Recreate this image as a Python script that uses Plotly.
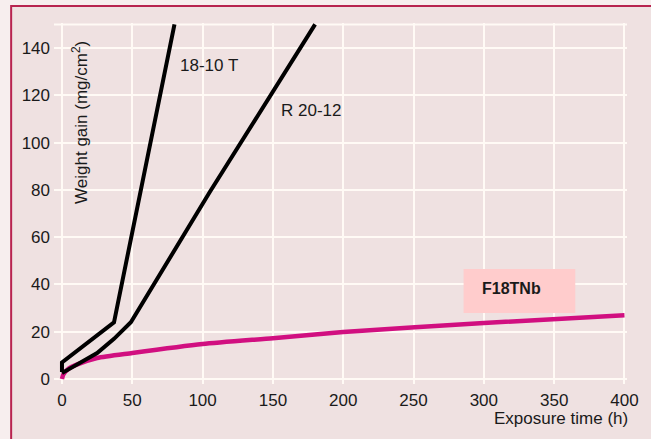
import plotly.graph_objects as go

# Weight gain vs exposure time for three steels
t_1810 = [0, 0, 37, 80]
w_1810 = [3, 7, 24, 150]

t_r2012 = [0, 12, 25, 37, 49, 105, 180]
w_r2012 = [2.5, 6.5, 11, 17, 24, 79, 150]

t_f18 = [0, 1, 5, 10, 25, 50, 100, 150, 200, 300, 400]
w_f18 = [0, 2, 4.5, 6, 8.9, 11, 14.8, 17.3, 19.9, 23.7, 27]

x_ticks = [0, 50, 100, 150, 200, 250, 300, 350, 400]
y_ticks = [0, 20, 40, 60, 80, 100, 120, 140]
y_top = 150

BG = "#EFE1E1"
GRID = "#FFFAF5"
FONT = "Liberation Sans, Arial, sans-serif"

fig = go.Figure()
fig.add_trace(go.Scatter(x=t_f18, y=w_f18, mode="lines",
                         line=dict(color="#D10F80", width=4.5, shape="spline", smoothing=0.6),
                         showlegend=False, hoverinfo="skip"))
fig.add_trace(go.Scatter(x=t_r2012, y=w_r2012, mode="lines",
                         line=dict(color="#000000", width=4),
                         showlegend=False, hoverinfo="skip"))
fig.add_trace(go.Scatter(x=t_1810, y=w_1810, mode="lines",
                         line=dict(color="#000000", width=4),
                         showlegend=False, hoverinfo="skip"))

L, R, T, B = 54, 22, 23, 55
W, H = 651, 439
pw, ph = W - L - R, H - T - B

def px(xp):
    return (xp - L) / pw

def py(yp):
    return (H - B - yp) / ph

shapes = [
    # framed panel: only top and left edges fall inside the page
    dict(type="rect", xref="paper", yref="paper",
         x0=px(11), x1=1.2, y0=-0.3, y1=py(6),
         fillcolor=BG, line=dict(color="#B8234F", width=2), layer="below"),
    # top grid line of the plot area
    dict(type="line", xref="paper", yref="y", x0=0, x1=1, y0=y_top, y1=y_top,
         line=dict(color=GRID, width=2), layer="below"),
    # label box for F18TNb
    dict(type="rect", xref="x", yref="y", x0=285.6, x1=365, y0=27.9, y1=46.5,
         fillcolor="#FFCCCC", line=dict(width=0), layer="above"),
]

annotations = [
    dict(text="Weight gain (mg/cm<sup>2</sup>)", xref="paper", yref="paper",
         x=px(80), y=py(122), textangle=-90, showarrow=False,
         font=dict(size=17, color="#1a1a1a", family=FONT),
         xanchor="center", yanchor="middle"),
    dict(text="Exposure time (h)", xref="paper", yref="paper",
         x=px(632), y=py(418), showarrow=False,
         font=dict(size=17, color="#1a1a1a", family=FONT),
         xanchor="right", yanchor="middle"),
    dict(text="18-10 T", x=82.2, y=132.8, xref="x", yref="y", showarrow=False,
         font=dict(size=17, color="#1a1a1a", family=FONT), xanchor="left", yanchor="middle"),
    dict(text="R 20-12", x=154.5, y=113.8, xref="x", yref="y", showarrow=False,
         font=dict(size=17, color="#1a1a1a", family=FONT), xanchor="left", yanchor="middle"),
    dict(text="<b>F18TNb</b>", x=319.6, y=38.5, xref="x", yref="y", showarrow=False,
         font=dict(size=16, color="#1a1a1a", family=FONT), xanchor="center", yanchor="middle"),
]

fig.update_layout(
    width=W, height=H,
    margin=dict(l=L, r=R, t=T, b=B),
    paper_bgcolor="#F7EEEE",
    plot_bgcolor="rgba(0,0,0,0)",
    font=dict(family=FONT, size=17, color="#1a1a1a"),
    shapes=shapes,
    annotations=annotations,
    xaxis=dict(range=[-5.67, 401.8], tickvals=x_ticks, showgrid=True,
               gridcolor=GRID, gridwidth=2, zeroline=False, showline=False,
               ticks="", ticklabelstandoff=4, fixedrange=True,
               tickfont=dict(size=17, family=FONT, color="#1a1a1a")),
    yaxis=dict(range=[-2.1, 150.6], tickvals=y_ticks,
               showgrid=True, gridcolor=GRID, gridwidth=2, zeroline=False,
               showline=False, ticks="", ticklabelstandoff=3, fixedrange=True,
               tickfont=dict(size=17, family=FONT, color="#1a1a1a")),
)

fig.write_html("out.html")
